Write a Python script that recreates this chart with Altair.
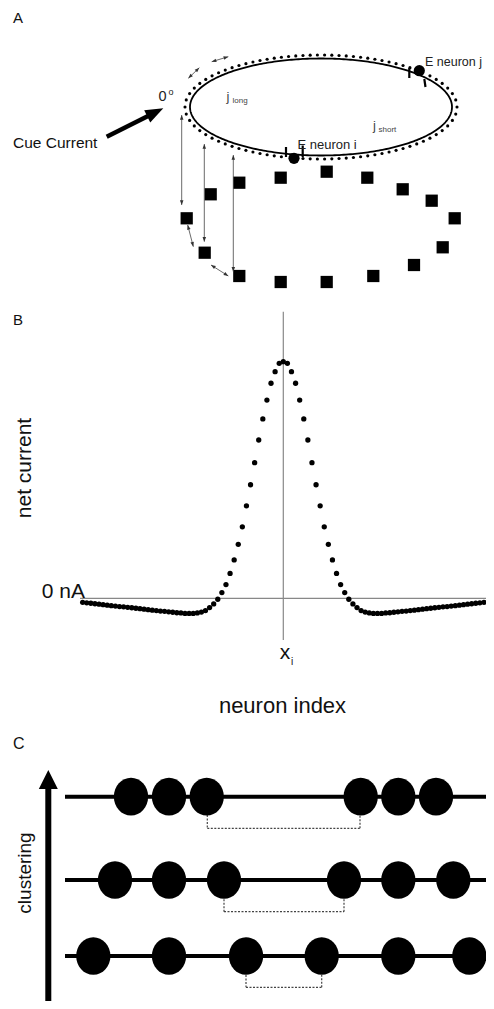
import altair as alt
import numpy as np
import pandas as pd

FONT = "Liberation Sans"

# ------------------------------------------------------------------
# Panel B data: net current per neuron index
# ------------------------------------------------------------------
neuron_index = list(range(-49, 51))
net_current = [
    -0.017, -0.019, -0.021, -0.023, -0.025, -0.027, -0.029, -0.031, -0.033, -0.035,
    -0.036, -0.038, -0.040, -0.042, -0.044, -0.046, -0.048, -0.050, -0.052, -0.054,
    -0.055, -0.057, -0.059, -0.061, -0.062, -0.064, -0.064, -0.064, -0.062, -0.058,
    -0.052, -0.039, -0.024, -0.004, 0.024, 0.058, 0.105, 0.162, 0.228, 0.302,
    0.391, 0.480, 0.573, 0.669, 0.758, 0.838, 0.909, 0.958, 0.993, 1.000,
    0.993, 0.958, 0.909, 0.838, 0.758, 0.669, 0.573, 0.480, 0.391, 0.302,
    0.228, 0.162, 0.105, 0.058, 0.024, -0.004, -0.024, -0.039, -0.052, -0.058,
    -0.062, -0.064, -0.064, -0.064, -0.062, -0.061, -0.059, -0.057, -0.055, -0.054,
    -0.052, -0.050, -0.048, -0.046, -0.044, -0.042, -0.040, -0.038, -0.036, -0.035,
    -0.033, -0.031, -0.029, -0.027, -0.025, -0.023, -0.021, -0.019, -0.017, -0.016,
]

# ------------------------------------------------------------------
# Panel A schematic (ring network)
# ------------------------------------------------------------------
ring_center = [321.0, 107.0]
ring_solid_axes = [131.0, 48.5]
ring_dots_axes = [136.0, 52.0]
ring_dot_gap = 7.2

neuron_x = [294.0, 419.3]
neuron_y = [158.3, 70.7]

synapse_x1 = [286.0, 302.7, 409.3, 424.3]
synapse_y1 = [147.0, 145.5, 68.0, 79.0]
synapse_x2 = [286.0, 302.7, 409.3, 425.5]
synapse_y2 = [157.0, 157.0, 78.0, 87.0]

square_x = [186.7, 210.7, 239.3, 280.7, 326.7, 367.3, 402.7, 431.7, 454.7,
            442.7, 414.0, 373.3, 326.7, 280.7, 239.3, 204.7]
square_y = [218.3, 194.3, 182.7, 177.7, 171.7, 177.7, 189.3, 200.7, 218.3,
            247.3, 265.0, 276.0, 282.0, 282.0, 276.0, 252.7]

thin_x1 = [181.7, 204.3, 233.3, 211.7, 188.3, 187.7, 211.0]
thin_y1 = [115.0, 144.0, 155.0, 61.7, 78.3, 225.0, 265.0]
thin_x2 = [181.7, 204.3, 233.3, 228.3, 199.3, 193.3, 228.3]
thin_y2 = [205.0, 241.7, 271.7, 56.7, 67.7, 246.7, 276.0]

cue_x1, cue_y1, cue_x2, cue_y2 = [106.7], [136.7], [163.3], [108.3]

a_text = ["A", "E neuron j", "E neuron i", "j", "long", "j", "short", "0", "o", "Cue Current"]
a_text_x = [13, 425, 297.5, 226.5, 232.5, 373, 378.5, 158.5, 168.5, 13]
a_text_y = [18, 62, 144.5, 97, 101, 126, 129.5, 97, 91.5, 142.5]
a_text_size = [15, 12.5, 13, 13, 8, 13, 8, 14.5, 9, 15.5]
a_text_color = ["#111", "#222", "#222", "#444", "#444", "#444", "#444", "#222", "#222", "#111"]

# ------------------------------------------------------------------
# Panel C schematic (clustering)
# ------------------------------------------------------------------
c_line_y = [796.7, 880.0, 956.0]
c_line_x1, c_line_x2 = 65.0, 492.0
c_row1_x = [131.0, 169.0, 206.7, 360.7, 398.3, 436.0]
c_row2_x = [115.0, 169.0, 224.0, 344.0, 398.3, 453.3]
c_row3_x = [93.3, 169.0, 246.0, 321.7, 398.3, 469.3]
c_link_xl = [207.3, 224.0, 246.0]
c_link_xr = [360.0, 344.0, 321.7]
c_link_top = [815.0, 899.3, 975.0]
c_link_bot = [828.3, 911.7, 987.3]
c_arrow_x = 48.3
c_arrow_tip, c_arrow_end = 770.0, 1001.0

c_text = ["C", "clustering"]

# ------------------------------------------------------------------
XDOM = [8, 486]
W = 478
HA, HB, HC = 292, 425, 276
A_Y = [8, 300]
C_Y = [725, 1001]

# panel B mapping (pixel of index 0, pixel per neuron, pixel of 0 nA, pixel per unit)
B_X0, B_DX, B_Y0, B_DY = 283.3, 4.095, 598.3, 236.6
def bx(px):
    return (px - B_X0) / B_DX
def by(py):
    return (B_Y0 - py) / B_DY
B_XDOM = [bx(8), bx(486)]
B_YDOM = [by(725), by(300)]


def sx(dom):
    return alt.Scale(domain=dom, nice=False, zero=False)


def sy(dom, rev=True):
    return alt.Scale(domain=dom, nice=False, zero=False, reverse=rev)


def enc(ydom, xdom=XDOM, rev=True, seg=False):
    d = dict(x=alt.X("x:Q", scale=sx(xdom), axis=None),
             y=alt.Y("y:Q", scale=sy(ydom, rev), axis=None))
    if seg:
        d["x2"] = alt.X2("x2:Q")
        d["y2"] = alt.Y2("y2:Q")
    return d


def heads(x1, y1, x2, y2, size, both=True):
    rows = []
    s = np.sqrt(size) / 2.0
    for a, b, c, d in zip(x1, y1, x2, y2):
        ends = [((c, d), (a, b))]
        if both:
            ends.append(((a, b), (c, d)))
        for (tx, ty), (fx, fy) in ends:
            L = np.hypot(tx - fx, ty - fy)
            ux, uy = (tx - fx) / L, (ty - fy) / L
            ang = (np.degrees(np.arctan2(ux, -uy)) + 360) % 360
            rows.append(dict(x=tx - ux * s, y=ty - uy * s, ang=ang))
    return pd.DataFrame(rows)


HEAD = "M0,-1L0.75,1L-0.75,1Z"

# ---------------- Panel A ----------------
cx, cy = ring_center
tt = np.linspace(0, 2 * np.pi, 361)
ell = pd.DataFrame(dict(x=cx + ring_solid_axes[0] * np.cos(tt),
                        y=cy + ring_solid_axes[1] * np.sin(tt), o=np.arange(361)))

tf = np.linspace(0, 2 * np.pi, 4001)
fx = cx + ring_dots_axes[0] * np.cos(tf)
fy = cy + ring_dots_axes[1] * np.sin(tf)
arc = np.concatenate([[0], np.cumsum(np.hypot(np.diff(fx), np.diff(fy)))])
nd = int(arc[-1] // ring_dot_gap)
tsel = np.interp(np.arange(nd) * arc[-1] / nd, arc, tf)
dx_ = cx + ring_dots_axes[0] * np.cos(tsel)
dy_ = cy + ring_dots_axes[1] * np.sin(tsel)
keep = np.ones(nd, bool)
for nx, ny in zip(neuron_x, neuron_y):
    keep &= np.hypot(dx_ - nx, dy_ - ny) > 7
ring_dots = pd.DataFrame(dict(x=dx_[keep], y=dy_[keep]))

a_ell = alt.Chart(ell).mark_line(color="black", strokeWidth=1.8, clip=True).encode(
    order="o:Q", **enc(A_Y))
a_dots = alt.Chart(ring_dots).mark_circle(color="black", opacity=1, size=10, clip=True).encode(**enc(A_Y))
a_neur = alt.Chart(pd.DataFrame(dict(x=neuron_x, y=neuron_y))).mark_circle(
    color="black", opacity=1, size=125, clip=True).encode(**enc(A_Y))
a_syn = alt.Chart(pd.DataFrame(dict(x=synapse_x1, y=synapse_y1, x2=synapse_x2, y2=synapse_y2))).mark_rule(
    color="black", strokeWidth=2.2, clip=True).encode(**enc(A_Y, seg=True))
a_sq = alt.Chart(pd.DataFrame(dict(x=square_x, y=square_y))).mark_square(
    color="black", opacity=1, size=150, clip=True).encode(**enc(A_Y))
a_thin = alt.Chart(pd.DataFrame(dict(x=thin_x1, y=thin_y1, x2=thin_x2, y2=thin_y2))).mark_rule(
    color="#444", strokeWidth=0.8, clip=True).encode(**enc(A_Y, seg=True))
a_thin_h = alt.Chart(heads(thin_x1, thin_y1, thin_x2, thin_y2, 22)).mark_point(
    shape=HEAD, filled=True, color="#333", opacity=1, size=22, clip=True).encode(
    angle=alt.Angle("ang:Q", scale=None), **enc(A_Y))
cue_len = np.hypot(cue_x2[0] - cue_x1[0], cue_y2[0] - cue_y1[0])
cue_shaft = pd.DataFrame(dict(x=cue_x1, y=cue_y1,
                              x2=[cue_x2[0] - (cue_x2[0] - cue_x1[0]) / cue_len * 12],
                              y2=[cue_y2[0] - (cue_y2[0] - cue_y1[0]) / cue_len * 12]))
a_cue = alt.Chart(cue_shaft).mark_rule(color="black", strokeWidth=4.5, clip=True).encode(**enc(A_Y, seg=True))
a_cue_h = alt.Chart(heads(cue_x1, cue_y1, cue_x2, cue_y2, 324, both=False)).mark_point(
    shape=HEAD, filled=True, color="black", opacity=1, size=324, clip=True).encode(
    angle=alt.Angle("ang:Q", scale=None), **enc(A_Y))
a_txt = alt.Chart(pd.DataFrame(dict(x=a_text_x, y=a_text_y, t=a_text, s=a_text_size, c=a_text_color))).mark_text(
    align="left", baseline="middle", font=FONT).encode(
    text="t:N", size=alt.Size("s:Q", scale=None), color=alt.Color("c:N", scale=None), **enc(A_Y))

panelA = alt.layer(a_ell, a_dots, a_syn, a_neur, a_sq, a_thin, a_thin_h, a_cue, a_cue_h, a_txt).properties(
    width=W, height=HA)

# ---------------- Panel B ----------------
b_pts = alt.Chart(pd.DataFrame(dict(x=neuron_index, y=net_current))).mark_circle(
    color="black", opacity=1, size=28, clip=True).encode(**enc(B_YDOM, B_XDOM, rev=False))
b_axes = alt.Chart(pd.DataFrame(dict(x=[bx(80), 0.0], y=[0.0, by(311.7)],
                                     x2=[bx(486), 0.0], y2=[0.0, by(640)]))).mark_rule(
    color="#888", strokeWidth=1.2, clip=True).encode(**enc(B_YDOM, B_XDOM, rev=False, seg=True))


def btext(label, px, py, size, align="left", angle=0):
    return alt.Chart(pd.DataFrame(dict(x=[bx(px)], y=[by(py)], t=[label]))).mark_text(
        align=align, baseline="middle", font=FONT, fontSize=size, color="#111", angle=angle
    ).encode(text="t:N", **enc(B_YDOM, B_XDOM, rev=False))


b_txt = [
    btext("B", 13, 320, 15),
    btext("net current", 24.5, 468, 21, align="center", angle=270),
    btext("0 nA", 85, 592, 21, align="right"),
    btext("x", 285, 653, 21, align="center"),
    btext("i", 291, 662, 10),
    btext("neuron index", 282.5, 706, 22, align="center"),
]
panelB = alt.layer(b_axes, b_pts, *b_txt).properties(width=W, height=HB)

# ---------------- Panel C ----------------
c_lines = alt.Chart(pd.DataFrame(dict(x=[c_line_x1] * 3, x2=[c_line_x2] * 3, y=c_line_y, y2=c_line_y))).mark_rule(
    color="black", strokeWidth=4, clip=True).encode(**enc(C_Y, seg=True))
cx_all, cy_all = [], []
for row_x, ly in zip([c_row1_x, c_row2_x, c_row3_x], c_line_y):
    cx_all += row_x
    cy_all += [ly] * len(row_x)
ELL = "M-0.91,0A0.91,1 0 1,0 0.91,0A0.91,1 0 1,0 -0.91,0Z"
c_circ = alt.Chart(pd.DataFrame(dict(x=cx_all, y=cy_all))).mark_point(
    shape=ELL, filled=True, color="black", opacity=1, size=1421, clip=True).encode(**enc(C_Y))
lx1, ly1, lx2, ly2 = [], [], [], []
for xl, xr, yt, yb in zip(c_link_xl, c_link_xr, c_link_top, c_link_bot):
    lx1 += [xl, xl, xr]
    ly1 += [yt, yb, yb]
    lx2 += [xl, xr, xr]
    ly2 += [yb, yb, yt]
c_links = alt.Chart(pd.DataFrame(dict(x=lx1, y=ly1, x2=lx2, y2=ly2))).mark_rule(
    color="#444", strokeWidth=1.2, strokeDash=[2, 1.5], clip=True).encode(**enc(C_Y, seg=True))
c_shaft = alt.Chart(pd.DataFrame(dict(x=[c_arrow_x], y=[c_arrow_tip + 15], x2=[c_arrow_x], y2=[c_arrow_end]))).mark_rule(
    color="black", strokeWidth=6, clip=True).encode(**enc(C_Y, seg=True))
c_head = alt.Chart(pd.DataFrame(dict(x=[c_arrow_x], y=[c_arrow_tip + 9.5]))).mark_point(
    shape="M0,-1L1,1L-1,1Z", filled=True, color="black", opacity=1, size=361, clip=True).encode(**enc(C_Y))
c_t1 = alt.Chart(pd.DataFrame(dict(x=[13], y=[743.5], t=[c_text[0]]))).mark_text(
    align="left", baseline="middle", font=FONT, fontSize=16, color="#111").encode(text="t:N", **enc(C_Y))
c_t2 = alt.Chart(pd.DataFrame(dict(x=[25], y=[873], t=[c_text[1]]))).mark_text(
    align="center", baseline="middle", font=FONT, fontSize=19, color="#111", angle=270
).encode(text="t:N", **enc(C_Y))
panelC = alt.layer(c_lines, c_links, c_circ, c_shaft, c_head, c_t1, c_t2).properties(width=W, height=HC)

chart = alt.vconcat(panelA, panelB, panelC, spacing=0).properties(
    bounds="flush", padding=0
).configure_view(stroke=None).configure_concat(spacing=0)

chart.save("out.html", embed_options={"renderer": "svg", "actions": False})
